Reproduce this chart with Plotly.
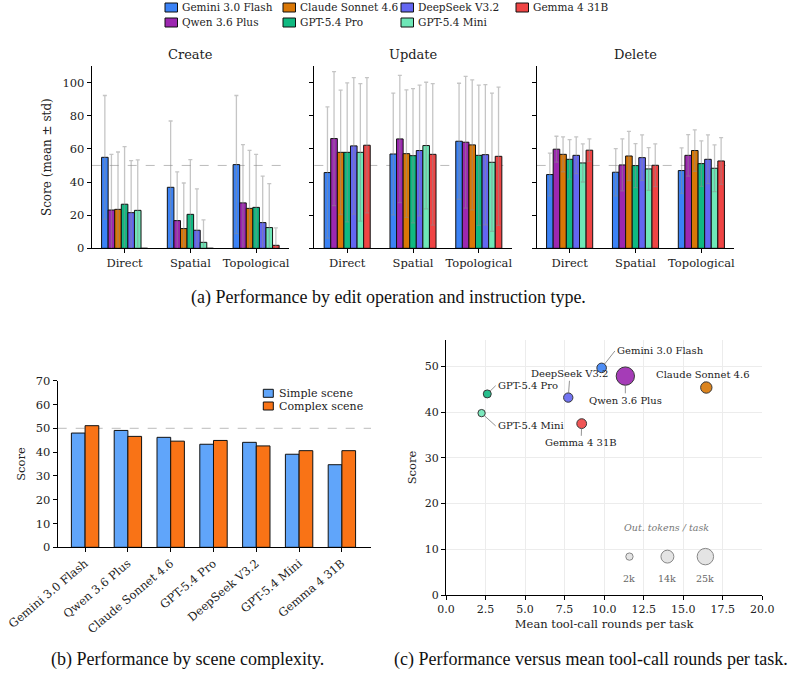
import plotly.graph_objects as go
import numpy as np

W, H = 790, 677

models = ["Gemini 3.0 Flash", "Qwen 3.6 Plus", "Claude Sonnet 4.6", "GPT-5.4 Pro",
          "DeepSeek V3.2", "GPT-5.4 Mini", "Gemma 4 31B"]
colors = ["#3b82f6", "#9c27b0", "#d97706", "#10b981", "#6366f1", "#6ee7b7", "#ef4444"]
instr = ["Direct", "Spatial", "Topological"]
ops = ["Create", "Update", "Delete"]

# mean scores [model][instruction]
create_mean = [[54.9, 36.8, 50.5], [23.1, 16.7, 27.4], [23.5, 11.9, 24.1], [26.6, 20.5, 24.7],
               [21.5, 10.9, 15.5], [22.9, 3.6, 12.5], [0.0, 0.0, 1.8]]
create_std = [[37.3, 40.0, 41.7], [33.6, 29.4, 35.2], [34.6, 27.5, 35.0], [34.8, 33.0, 32.0],
              [31.4, 24.9, 28.0], [30.4, 13.5, 26.5], [0.0, 0.0, 10.5]]
update_mean = [[45.7, 56.9, 64.6], [66.2, 66.0, 64.0], [57.9, 57.1, 62.4], [57.9, 55.9, 56.1],
               [61.8, 59.0, 56.5], [57.9, 62.0, 51.9], [62.2, 56.7, 55.5]]
update_std = [[39.6, 36.7, 35.0], [40.4, 38.4, 39.8], [37.5, 38.5, 39.2], [41.9, 40.5, 42.3],
              [41.2, 39.4, 42.3], [41.5, 38.2, 41.7], [40.8, 42.7, 41.7]]
delete_mean = [[44.5, 45.9, 46.9], [59.8, 50.3, 56.1], [56.7, 55.7, 59.0], [53.7, 49.9, 51.1],
               [56.1, 54.7, 53.7], [51.5, 47.9, 48.3], [59.2, 50.1, 52.7]]
delete_std = [[12.9, 14.3, 13.7], [7.8, 15.7, 12.5], [10.5, 14.9, 12.5], [11.9, 13.3, 13.7],
              [11.1, 13.7, 14.7], [11.5, 12.9, 14.1], [6.8, 12.9, 14.1]]

# panel b
scene_labels = ["Simple scene", "Complex scene"]
scene_colors = ["#60a5fa", "#f97316"]
simple_scene = [48.0, 49.1, 46.2, 43.3, 44.1, 39.1, 34.7]
complex_scene = [51.1, 46.6, 44.6, 44.9, 42.6, 40.6, 40.6]

# panel c
tool_rounds = [9.84, 11.34, 16.46, 2.61, 7.73, 2.25, 8.58]
overall_score = [49.7, 47.9, 45.4, 44.0, 43.2, 39.8, 37.5]
out_tokens_k = [6.0, 32.0, 10.0, 3.1, 5.5, 2.0, 6.5]
size_legend_k = [2, 14, 25]
size_legend_lbl = ["2k", "14k", "25k"]

FONT = "DejaVu Serif, serif"
CAP_FONT = "Liberation Serif, Times New Roman, serif"
TXT = "#222"


def px_x(p):
    return p / W


def px_y(p):
    return 1 - p / H


def tok_diam(t):
    return float(np.sqrt(35 + 9.4 * t))


fig = go.Figure()

ax_common = dict(showline=True, linecolor="black", linewidth=1, ticks="outside", ticklen=4,
                 tickcolor="black", zeroline=False, showgrid=False, automargin=False,
                 tickfont=dict(family=FONT, size=11.5, color=TXT))

panel_dom = [(91.7, 289.0), (314.3, 511.7), (536.7, 734.3)]
y_dom_a = [px_y(248.3), px_y(66.0)]
means = [create_mean, update_mean, delete_mean]
stds = [create_std, update_std, delete_std]
xpos = np.arange(len(instr))
bw = 0.1

for k in range(3):
    xa = "x" if k == 0 else f"x{k + 1}"
    ya = "y" if k == 0 else f"y{k + 1}"
    for i, m in enumerate(models):
        fig.add_trace(go.Bar(
            x=xpos, y=means[k][i], width=bw, offset=-0.35 + i * bw,
            marker=dict(color=colors[i], line=dict(color="#111", width=1)),
            error_y=dict(type="data", array=stds[k][i], visible=True,
                         color="rgba(140,140,140,0.5)", thickness=1.3, width=2),
            xaxis=xa, yaxis=ya, showlegend=False, name=m))
    xkey = "xaxis" if k == 0 else f"xaxis{k + 1}"
    ykey = "yaxis" if k == 0 else f"yaxis{k + 1}"
    fig.layout[xkey] = dict(ax_common, domain=[px_x(panel_dom[k][0]), px_x(panel_dom[k][1])],
                            anchor=ya, range=[-0.5, 2.5], tickvals=list(xpos), ticktext=instr)
    fig.layout[ykey] = dict(ax_common, domain=y_dom_a, anchor=xa, range=[0, 110],
                            tickvals=[0, 20, 40, 60, 80, 100], showticklabels=(k == 0))
    fig.add_shape(type="line", xref=f"{xa} domain", yref=ya, x0=0, x1=1, y0=50, y1=50,
                  line=dict(color="#aaaaaa", width=0.8, dash="dash"), layer="below")
    fig.add_annotation(text=ops[k], xref=f"{xa} domain", yref="paper", x=0.5, y=px_y(54),
                       showarrow=False, font=dict(family=FONT, size=13, color=TXT),
                       yanchor="middle")

fig.layout.yaxis.title = dict(text="Score (mean ± std)", font=dict(family=FONT, size=12, color=TXT),
                              standoff=8)

# top legend (matplotlib-like column layout, 4 columns filled column-wise)
leg_cols = [165, 283, 401, 516]
leg_rows = [7.5, 22.5]
for idx in range(len(models)):
    col, row = idx // 2, idx % 2
    x0 = leg_cols[col]
    yc = leg_rows[row]
    fig.add_shape(type="rect", xref="paper", yref="paper", x0=px_x(x0), x1=px_x(x0 + 12.5),
                  y0=px_y(yc + 4.5), y1=px_y(yc - 4.5), fillcolor=colors[idx],
                  line=dict(color="#111", width=1))
    fig.add_annotation(text=models[idx], xref="paper", yref="paper", x=px_x(x0 + 15), y=px_y(yc),
                       xanchor="left", yanchor="middle", showarrow=False,
                       font=dict(family=FONT, size=10.5, color=TXT))

# panel b
xb = np.arange(len(models))
for j, (vals, off) in enumerate([(simple_scene, -0.32), (complex_scene, 0.0)]):
    fig.add_trace(go.Bar(x=xb, y=vals, width=0.32, offset=off, name=scene_labels[j],
                         marker=dict(color=scene_colors[j], line=dict(color="#111", width=1)),
                         xaxis="x4", yaxis="y4", showlegend=False))
fig.layout.xaxis4 = dict(ax_common, domain=[px_x(57.7), px_x(371)], anchor="y4",
                         range=[-0.64, 6.68], tickvals=list(xb), ticktext=models, tickangle=-40,
                         tickfont=dict(family=FONT, size=11.5, color=TXT))
fig.layout.yaxis4 = dict(ax_common, domain=[px_y(547.3), px_y(380.7)], anchor="x4",
                         range=[0, 70], tickvals=list(range(0, 71, 10)),
                         title=dict(text="Score", font=dict(family=FONT, size=11.5, color=TXT),
                                    standoff=7))
fig.add_shape(type="line", xref="x4 domain", yref="y4", x0=0, x1=1, y0=50, y1=50,
              line=dict(color="#aaaaaa", width=0.8, dash="dash"), layer="below")
for j, lbl in enumerate(scene_labels):
    yc = [393.3, 406.0][j]
    fig.add_shape(type="rect", xref="paper", yref="paper", x0=px_x(263.3), x1=px_x(273.3),
                  y0=px_y(yc + 4), y1=px_y(yc - 4), fillcolor=scene_colors[j],
                  line=dict(color="#111", width=1))
    fig.add_annotation(text=lbl, xref="paper", yref="paper", x=px_x(276.5), y=px_y(yc),
                       xanchor="left", yanchor="middle", showarrow=False,
                       font=dict(family=FONT, size=11, color=TXT))

# panel c
for i, m in enumerate(models):
    fig.add_trace(go.Scatter(x=[tool_rounds[i]], y=[overall_score[i]], mode="markers",
                             marker=dict(size=tok_diam(out_tokens_k[i]), color=colors[i], opacity=0.9,
                                         line=dict(color="#222", width=1)),
                             xaxis="x5", yaxis="y5", showlegend=False, name=m))
fig.add_trace(go.Scatter(x=[11.6, 14.0, 16.4], y=[8.4, 8.4, 8.4], mode="markers",
                         marker=dict(size=[tok_diam(t) for t in size_legend_k], color="#d9d9d9",
                                     line=dict(color="#555", width=1)),
                         xaxis="x5", yaxis="y5", showlegend=False, hoverinfo="skip"))
for xx, lbl in zip([11.6, 14.0, 16.4], size_legend_lbl):
    fig.add_annotation(text=lbl, x=xx, y=3.6, xref="x5", yref="y5", showarrow=False,
                       font=dict(family=FONT, size=9.5, color="#666"))
fig.add_annotation(text="<i>Out. tokens / task</i>", x=13.95, y=14.7, xref="x5", yref="y5",
                   showarrow=False, font=dict(family=FONT, size=9.5, color="#777"))

lbl_pos = {
    "Gemini 3.0 Flash": (10.68, 53.4, "left"),
    "Qwen 3.6 Plus": (11.34, 42.6, "center"),
    "Claude Sonnet 4.6": (16.23, 48.3, "center"),
    "GPT-5.4 Pro": (3.14, 45.8, "left"),
    "DeepSeek V3.2": (7.84, 48.4, "center"),
    "GPT-5.4 Mini": (3.14, 37.0, "left"),
    "Gemma 4 31B": (8.54, 33.3, "center"),
}
for i, m in enumerate(models):
    tx, ty, anc = lbl_pos[m]
    fig.add_annotation(text=m, x=tool_rounds[i], y=overall_score[i], ax=tx, ay=ty,
                       xref="x5", yref="y5", axref="x5", ayref="y5", xanchor=anc,
                       showarrow=True, arrowhead=0, arrowwidth=0.8, arrowcolor="#777",
                       standoff=tok_diam(out_tokens_k[i]) / 2,
                       font=dict(family=FONT, size=10, color=TXT))

fig.layout.xaxis5 = dict(ax_common, domain=[px_x(446), px_x(762.3)], anchor="y5", range=[0, 20],
                         tickvals=[0, 2.5, 5, 7.5, 10, 12.5, 15, 17.5, 20],
                         ticktext=["0.0", "2.5", "5.0", "7.5", "10.0", "12.5", "15.0", "17.5", "20.0"],
                         showgrid=True, gridcolor="#ececec", gridwidth=1,
                         tickfont=dict(family=FONT, size=11, color=TXT),
                         title=dict(text="Mean tool-call rounds per task",
                                    font=dict(family=FONT, size=11.5, color=TXT), standoff=4))
fig.layout.yaxis5 = dict(ax_common, domain=[px_y(595), px_y(340)], anchor="x5", range=[0, 55.8],
                         tickvals=list(range(0, 51, 10)), showgrid=True, gridcolor="#ececec", gridwidth=1,
                         tickfont=dict(family=FONT, size=11, color=TXT),
                         title=dict(text="Score", font=dict(family=FONT, size=11.5, color=TXT),
                                    standoff=5))
fig.add_shape(type="line", xref="x5 domain", yref="y5", x0=0, x1=1, y0=50, y1=50,
              line=dict(color="#aaaaaa", width=0.8, dash="dash"), layer="below")

# captions
captions = [("(a) Performance by edit operation and instruction type.", 388, 298),
            ("(b) Performance by scene complexity.", 187, 659),
            ("(c) Performance versus mean tool-call rounds per task.", 591, 659)]
for txt, cx, cy in captions:
    fig.add_annotation(text=txt, xref="paper", yref="paper", x=px_x(cx), y=px_y(cy),
                       showarrow=False, xanchor="center", yanchor="middle",
                       font=dict(family=CAP_FONT, size=18, color="#111"))

fig.update_layout(
    width=W, height=H, margin=dict(l=0, r=0, t=0, b=0, autoexpand=False),
    paper_bgcolor="white", plot_bgcolor="white", barmode="overlay",
    font=dict(family=FONT, size=11, color=TXT), showlegend=False,
)

fig.write_html("out.html")
